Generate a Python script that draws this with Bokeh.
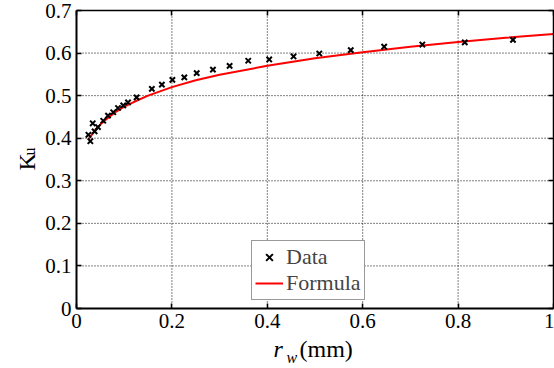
import math
from bokeh.plotting import figure
from bokeh.models import (Range1d, FixedTicker, CustomJSTickFormatter, Label,
                          LinearAxis, Legend, LegendItem)
from bokeh.embed import file_html
from bokeh.resources import INLINE

# ---- data ----
r_data = [0.025, 0.029, 0.034, 0.038, 0.045, 0.056, 0.066, 0.077, 0.087, 0.098,
          0.108, 0.126, 0.158, 0.179, 0.201, 0.226, 0.252, 0.286, 0.321, 0.360,
          0.404, 0.455, 0.509, 0.575, 0.645, 0.725, 0.814, 0.915]
k_data = [0.408, 0.393, 0.435, 0.416, 0.426, 0.441, 0.453, 0.461, 0.471, 0.477,
          0.484, 0.496, 0.516, 0.526, 0.537, 0.543, 0.553, 0.561, 0.570, 0.582,
          0.585, 0.592, 0.599, 0.607, 0.615, 0.620, 0.625, 0.631]

r_formula = [0.025, 0.03, 0.04, 0.05, 0.06, 0.08, 0.10, 0.12, 0.15, 0.20, 0.25,
             0.30, 0.40, 0.50, 0.60, 0.70, 0.80, 0.90, 1.00]
k_formula = [0.397, 0.405, 0.420, 0.432, 0.442, 0.460, 0.474, 0.485, 0.500, 0.520,
             0.536, 0.549, 0.570, 0.588, 0.602, 0.615, 0.626, 0.636, 0.645]

x_ticks = [0, 0.2, 0.4, 0.6, 0.8, 1.0]
y_ticks = [0, 0.1, 0.2, 0.3, 0.4, 0.5, 0.6, 0.7]
x_grid = [0.2, 0.4, 0.6, 0.8]
y_grid = [0.1, 0.2, 0.3, 0.4, 0.5, 0.6]

FONT = "Liberation Serif"

# canvas geometry (pixels): plot box from x=76..553, y=10..308 of a 554x368 canvas
W, H = 554, 368
BOX_L, BOX_R, BOX_T, BOX_B = 76, 553, 10, 308
x0, x1 = x_ticks[0], x_ticks[-1]
y0, y1 = y_ticks[0], y_ticks[-1]
sx = (BOX_R - BOX_L) / (x1 - x0)
sy = (BOX_B - BOX_T) / (y1 - y0)
xr = Range1d(x0 - BOX_L / sx, x1 + (W - BOX_R) / sx)
yr = Range1d(y0 - (H - BOX_B) / sy, y1 + BOX_T / sy)

p = figure(width=W, height=H, output_backend="svg", toolbar_location=None,
           x_range=xr, y_range=yr, x_axis_type=None, y_axis_type=None,
           min_border=0, background_fill_color="white",
           border_fill_color="white")
p.outline_line_color = None
p.grid.visible = False

fmt = CustomJSTickFormatter(code="return String(Math.round(tick*10)/10);")
blank = CustomJSTickFormatter(code="return '';")

def make_axis(ticks, loc_value, bounds, labelled, width):
    return LinearAxis(ticker=FixedTicker(ticks=ticks),
                      formatter=fmt if labelled else blank,
                      fixed_location=loc_value, bounds=bounds,
                      major_label_text_font=FONT, major_label_text_font_size="21px",
                      major_label_text_color="black", major_label_standoff=5,
                      axis_line_color="black", axis_line_width=width,
                      major_tick_in=5, major_tick_out=0, major_tick_line_width=1.5,
                      major_tick_line_color="black", minor_tick_line_color=None,
                      axis_label=None)

p.add_layout(make_axis(x_ticks, y0, (x0, x1), True, 2), "below")
p.add_layout(make_axis(y_ticks, x0, (y0, y1), True, 2), "left")
p.add_layout(make_axis(x_ticks, y1, (x0, x1), False, 1.5), "above")
p.add_layout(make_axis(y_ticks, x1, (y0, y1), False, 1.5), "right")

# dotted grid lines
p.segment(x0=x_grid, y0=[y0] * len(x_grid), x1=x_grid, y1=[y1] * len(x_grid),
          line_color="black", line_dash="1 2", line_width=1)
p.segment(x0=[x0] * len(y_grid), y0=y_grid, x1=[x1] * len(y_grid), y1=y_grid,
          line_color="black", line_dash="1 2", line_width=1)

r_formula_line = p.line(r_formula, k_formula, line_color="#ff0000", line_width=2)
r_data_pts = p.scatter(r_data, k_data, marker="x", size=7.5, line_color="black",
                       line_width=2)

legend = Legend(items=[LegendItem(label="Data", renderers=[r_data_pts]),
                       LegendItem(label="Formula", renderers=[r_formula_line])],
                location=(251, H - 300), padding=3, spacing=-5, margin=0,
                label_height=24, glyph_height=24, glyph_width=28,
                label_standoff=3, label_text_font=FONT,
                label_text_font_size="22px", border_line_color="#333333",
                border_line_width=1, background_fill_color="white",
                background_fill_alpha=1.0)
p.add_layout(legend)

# axis titles with sub-scripts
lab = dict(x_units="screen", y_units="screen", text_font=FONT, text_color="black",
           text_baseline="alphabetic")
p.add_layout(Label(x=26, y=H - 170, text="K", angle=math.pi/2, text_align="left",
                   text_font_size="24px", **lab))
p.add_layout(Label(x=29, y=H - 155, text="u", angle=math.pi/2, text_align="left",
                   text_font_size="16px", **lab))
p.add_layout(Label(x=273, y=H - 348, text="r", text_font_style="italic",
                   text_font_size="24px", **lab))
p.add_layout(Label(x=286, y=H - 357, text="w", text_font_style="italic",
                   text_font_size="16px", **lab))
p.add_layout(Label(x=299, y=H - 348, text="(mm)", text_font_size="24px", **lab))

open("out.html", "w").write(file_html(p, INLINE))
